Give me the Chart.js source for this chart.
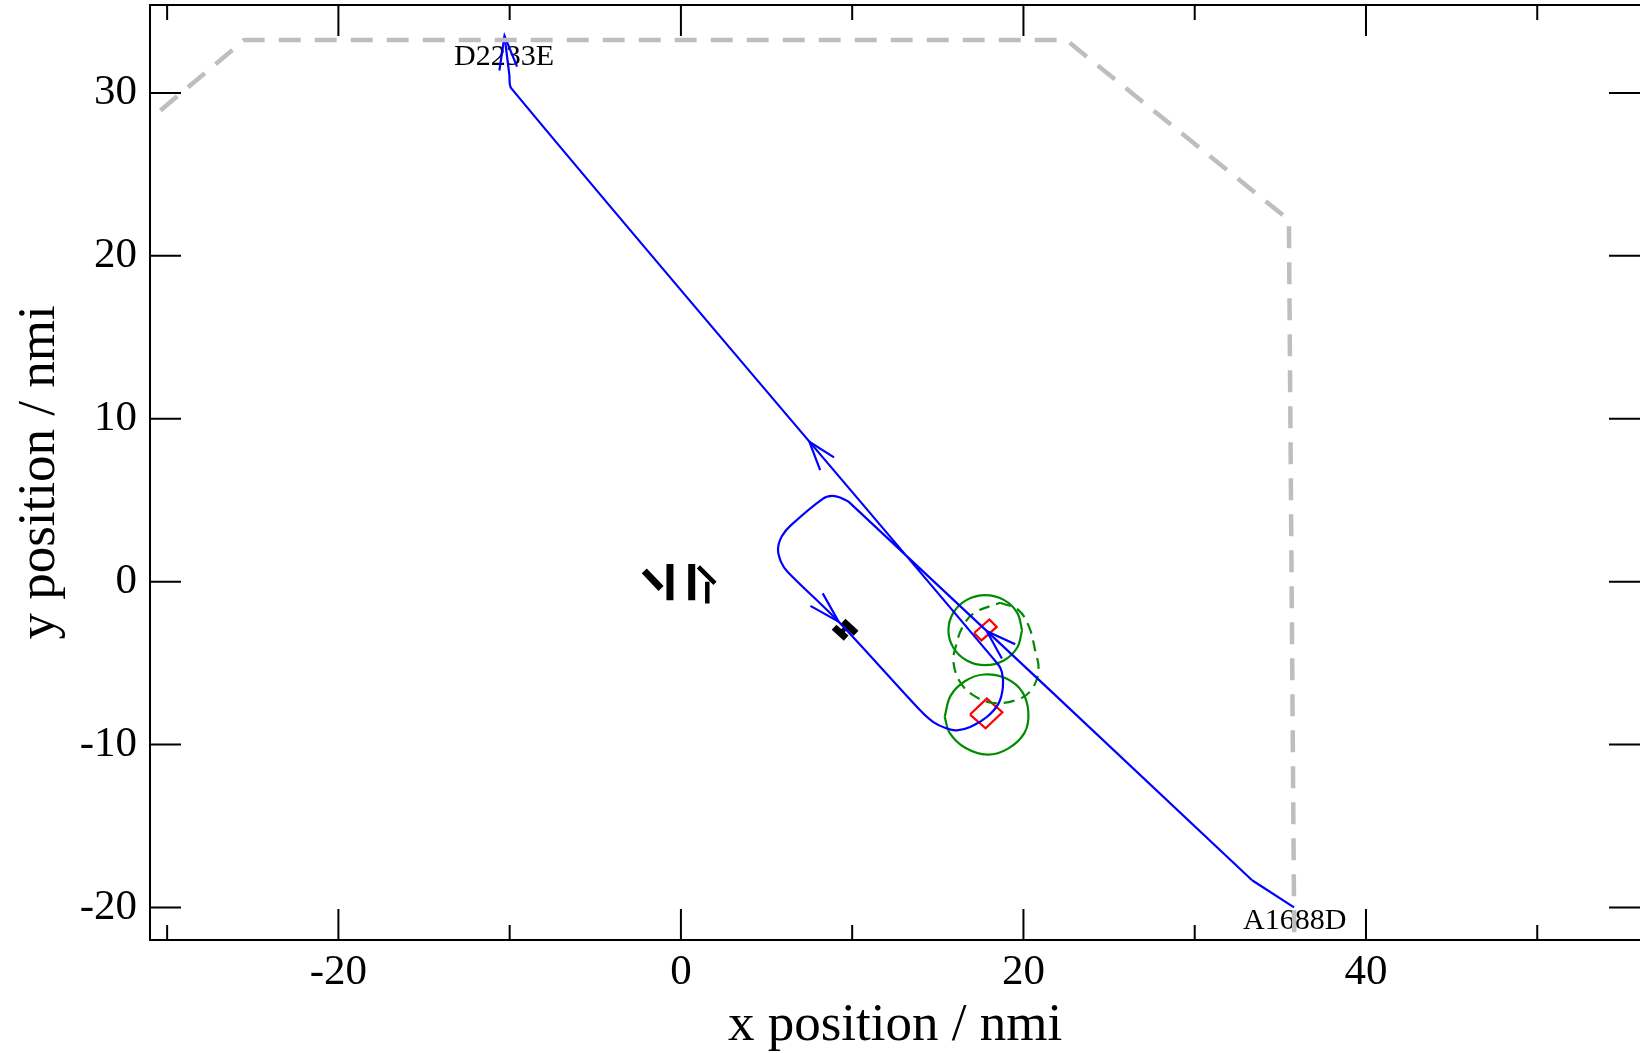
<!DOCTYPE html>
<html>
<head>
<meta charset="utf-8">
<script src="https://cdn.jsdelivr.net/npm/chart.js@4.4.1/dist/chart.umd.min.js"></script>
<style>
  html, body { margin: 0; padding: 0; background: #fff; }
</style>
</head>
<body>
<canvas id="myChart" width="1640" height="1053"></canvas>
<script>
// all positions in nmi
const xMajorTicks = [-20, 0, 20, 40];
const xMinorTicks = [-30, -10, 10, 30, 50];
const yMajorTicks = [-20, -10, 0, 10, 20, 30];

// airspace boundary (grey dashed)
const boundaryX = [-32, -25.5, 22.5, 35.5, 35.82];
const boundaryY = [27.5, 33.25, 33.25, 22.2, -23];

// first leg of the track, from A1688D to the turn
const legX = [35.80, 33.35];
const legY = [-20.00, -18.33];

// rest of the track: holding pattern, then out to D2233E
const trackX = [33.35, 9.88, 9.29, 8.83, 8.30, 6.43, 5.90, 5.67, 5.85, 6.25, 9.21, 13.97,
  14.74, 15.53, 16.11, 16.89, 17.86, 18.54, 18.80, 18.74, 18.48, -9.90, -10.02, -10.30];
const trackY = [-18.33, 4.82, 5.16, 5.26, 5.10, 3.47, 2.80, 2.00, 1.20, 0.58, -2.46, -7.90,
  -8.62, -9.02, -9.13, -8.92, -8.31, -7.49, -6.47, -5.54, -5.03, 30.28, 31.13, 33.50];

// arrow heads (barb, tip, barb)
const arrowX = [19.52, 17.86, 18.74, null, 8.94, 7.50, 8.13, null, 8.28, 9.21, 7.56, null, -9.57, -10.30, -10.60];
const arrowY = [-3.84, -3.04, -4.72, null, 7.63, 8.59, 6.85, null, -0.72, -2.46, -1.49, null, 31.62, 33.50, 31.38];

// aircraft boxes
const boxX = [17.12, 18.01, 18.44, 17.55, 17.12, null, 16.88, 17.86, 18.77, 17.79, 16.88];
const boxY = [-3.15, -2.32, -2.78, -3.61, -3.15, null, -8.16, -7.18, -8.02, -9.00, -8.16];

// protection zones, current (solid)
const zoneX = [19.92, 19.63, 18.85, 17.77, 16.69, 15.91, 15.62, 15.91, 16.69, 17.77, 18.85, 19.63, 19.92, null,
  15.40, 15.75, 16.60, 17.70, 19.00, 19.95, 20.29, 20.05, 19.10, 17.90, 16.60, 15.70, 15.40];
const zoneY = [-2.98, -1.90, -1.12, -0.83, -1.12, -1.90, -2.98, -4.06, -4.84, -5.13, -4.84, -4.06, -2.98, null,
  -8.30, -7.00, -6.10, -5.70, -5.95, -6.80, -8.10, -9.30, -10.25, -10.62, -10.20, -9.30, -8.30];

// protection zone, predicted (dashed)
const predX = [18.64, 19.71, 20.33, 20.68, 20.88, 20.58, 19.81, 18.25, 17.08, 16.30, 15.91, 16.07, 16.40, 17.08, 18.64];
const predY = [-1.30, -1.75, -2.78, -4.21, -5.34, -6.47, -7.18, -7.45, -6.98, -6.16, -4.93, -3.90, -2.88, -1.95, -1.30];

// black markers
const markThickX = [-0.64, -0.64, null, 0.63, 0.63, null, -2.14, -1.16, null, 8.94, 9.65, null, 9.47, 10.23];
const markThickY = [1.08, -1.14, null, 1.08, -1.14, null, 0.66, -0.42, null, -2.80, -3.47, null, -2.43, -3.17];
const markThinX = [1.02, 1.99, null, 1.54, 1.54, null, 9.29, 9.82];
const markThinY = [0.91, -0.11, null, -0.01, -1.34, null, -3.17, -2.67];

const labelText = ["D2233E", "A1688D"];
const labelX = [-10.33, 35.84];
const labelY = [32.2, -20.83];

function pts(xs, ys) {
  return xs.map((x, i) => ({ x: x, y: ys[i] }));
}

const serif = "'Liberation Serif', 'DejaVu Serif', serif";

const frameAndTicks = {
  id: "frameAndTicks",
  beforeDatasetsDraw(chart) {
    const { ctx, scales: { x, y } } = chart;
    ctx.save();
    ctx.fillStyle = "#000";
    ctx.font = "30px " + serif;
    ctx.textAlign = "center";
    ctx.textBaseline = "middle";
    labelText.forEach((t, i) => {
      ctx.fillText(t, x.getPixelForValue(labelX[i]), y.getPixelForValue(labelY[i]));
    });
    ctx.restore();
  },
  afterDatasetsDraw(chart) {
    const { ctx, chartArea: a, scales: { x, y } } = chart;
    ctx.save();
    ctx.strokeStyle = "#000";
    ctx.lineWidth = 2;
    ctx.beginPath();
    const xTick = (v, len) => {
      const px = x.getPixelForValue(v);
      ctx.moveTo(px, a.bottom);
      ctx.lineTo(px, a.bottom - len);
      ctx.moveTo(px, a.top);
      ctx.lineTo(px, a.top + len);
    };
    xMajorTicks.forEach(v => xTick(v, 31));
    xMinorTicks.forEach(v => xTick(v, 15));
    yMajorTicks.forEach(v => {
      const py = y.getPixelForValue(v);
      ctx.moveTo(a.left, py);
      ctx.lineTo(a.left + 31, py);
      ctx.moveTo(a.right, py);
      ctx.lineTo(a.right - 31, py);
    });
    // frame: right side falls off the picture in the original
    ctx.moveTo(a.right + 2, a.top);
    ctx.lineTo(a.left, a.top);
    ctx.lineTo(a.left, a.bottom);
    ctx.lineTo(a.right + 2, a.bottom);
    ctx.stroke();
    ctx.restore();
  }
};

// keep the plot frame where the original puts it
function noLabelPadding(scale) {
  scale.paddingTop = 0;
  scale.paddingBottom = 0;
  scale.paddingLeft = 0;
  scale.paddingRight = 0;
}

const ctx = document.getElementById("myChart").getContext("2d");

new Chart(ctx, {
  type: "scatter",
  data: {
    datasets: [
      {
        data: pts(boundaryX, boundaryY),
        borderColor: "#bebebe",
        borderWidth: 4.5,
        borderDash: [22, 14],
      },
      {
        data: pts(legX, legY),
        borderColor: "#0000ff",
        borderWidth: 2.2,
      },
      {
        data: pts(trackX, trackY),
        borderColor: "#0000ff",
        borderWidth: 2.2,
        tension: 0.3,
      },
      {
        data: pts(arrowX, arrowY),
        borderColor: "#0000ff",
        borderWidth: 2.2,
      },
      {
        data: pts(zoneX, zoneY),
        borderColor: "#008b00",
        borderWidth: 2.2,
        tension: 0.38,
      },
      {
        data: pts(predX, predY),
        borderColor: "#008b00",
        borderWidth: 2.2,
        borderDash: [11, 7],
        tension: 0.38,
      },
      {
        data: pts(boxX, boxY),
        borderColor: "#ff0000",
        borderWidth: 2.2,
      },
      {
        data: pts(markThickX, markThickY),
        borderColor: "#000",
        borderWidth: 7,
      },
      {
        data: pts(markThinX, markThinY),
        borderColor: "#000",
        borderWidth: 4.5,
      },
    ],
  },
  options: {
    responsive: false,
    animation: false,
    showLine: true,
    layout: { padding: { top: 5, right: 0, bottom: 0, left: 0 } },
    elements: { point: { radius: 0, hoverRadius: 0 } },
    plugins: {
      legend: { display: false },
      tooltip: { enabled: false },
    },
    scales: {
      x: {
        type: "linear",
        min: -31,
        max: 56,
        grid: { display: false, drawTicks: false },
        border: { display: false },
        ticks: {
          stepSize: 20,
          includeBounds: false,
          padding: 7,
          color: "#000",
          maxRotation: 0,
          font: { family: serif, size: 43 },
        },
        title: {
          display: true,
          text: "x position / nmi",
          color: "#000",
          font: { family: serif, size: 53 },
          padding: { top: 0, bottom: -5 },
        },
        afterFit(scale) {
          scale.height = 113;
          noLabelPadding(scale);
        },
      },
      y: {
        type: "linear",
        min: -22,
        max: 35.4,
        grid: { display: false, drawTicks: false },
        border: { display: false },
        ticks: {
          stepSize: 10,
          includeBounds: false,
          padding: 13,
          color: "#000",
          font: { family: serif, size: 43 },
        },
        title: {
          display: true,
          text: "y position / nmi",
          color: "#000",
          font: { family: serif, size: 53 },
          padding: { top: 8, bottom: 0 },
        },
        afterFit(scale) {
          scale.width = 150;
          noLabelPadding(scale);
        },
      },
    },
  },
  plugins: [frameAndTicks],
});
</script>
</body>
</html>
